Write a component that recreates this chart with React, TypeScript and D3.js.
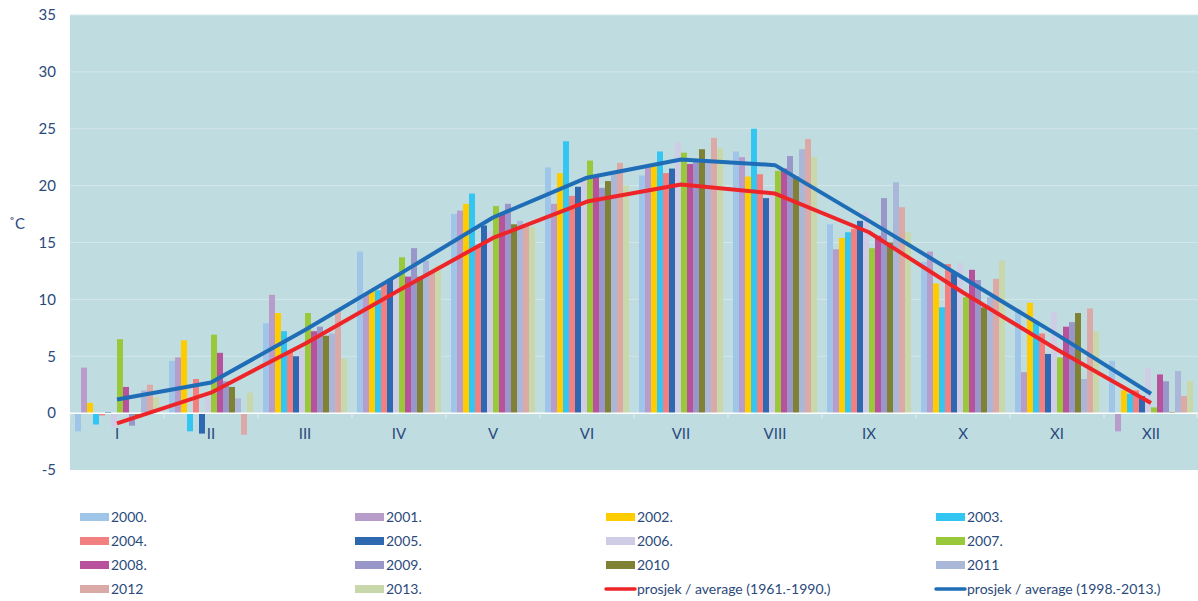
import React from "react";
import * as d3 from "d3";

const months = ["I", "II", "III", "IV", "V", "VI", "VII", "VIII", "IX", "X", "XI", "XII"];
const yTicks = [-5, 0, 5, 10, 15, 20, 25, 30, 35];

const years = ["2000.", "2001.", "2002.", "2003.", "2004.", "2005.", "2006.", "2007.", "2008.", "2009.", "2010", "2011", "2012", "2013."];

const y2000 = [-1.6, 4.6, 7.9, 14.2, 17.5, 21.6, 20.9, 23.0, 16.6, 13.3, 9.1, 4.6];
const y2001 = [4.0, 4.9, 10.4, 10.4, 17.8, 18.4, 21.6, 22.5, 14.4, 14.2, 3.6, -1.6];
const y2002 = [0.9, 6.4, 8.8, 10.8, 18.4, 21.1, 21.7, 20.8, 15.4, 11.4, 9.7, 2.0];
const y2003 = [-1.0, -1.6, 7.2, 10.8, 19.3, 23.9, 23.0, 25.0, 15.9, 9.3, 8.1, 1.7];
const y2004 = [-0.2, 3.0, 5.5, 11.4, 14.8, 19.1, 21.1, 21.0, 16.2, 13.1, 7.0, 2.0];
const y2005 = [0.1, -1.8, 5.0, 11.8, 16.5, 19.9, 21.5, 18.9, 16.9, 12.3, 5.2, 1.5];
const y2006 = [-1.2, 1.5, 5.6, 12.3, 16.0, 20.8, 23.8, 19.5, 17.7, 13.2, 8.9, 4.0];
const y2007 = [6.5, 6.9, 8.8, 13.7, 18.2, 22.2, 22.9, 21.3, 14.5, 10.2, 4.9, 0.5];
const y2008 = [2.3, 5.3, 7.2, 12.0, 17.5, 20.8, 21.9, 21.5, 15.6, 12.6, 7.6, 3.4];
const y2009 = [-1.1, 2.8, 7.6, 14.5, 18.4, 19.8, 22.1, 22.6, 18.9, 11.7, 8.0, 2.8];
const y2010 = [-0.4, 2.3, 6.8, 12.0, 16.6, 20.4, 23.2, 20.8, 15.0, 9.3, 8.8, 0.1];
const y2011 = [2.0, 1.3, 7.0, 13.4, 16.9, 21.0, 22.3, 23.2, 20.3, 10.2, 3.0, 3.7];
const y2012 = [2.5, -1.9, 9.1, 12.5, 16.4, 22.0, 24.2, 24.1, 18.1, 11.8, 9.2, 1.5];
const y2013 = [1.4, 1.8, 4.8, 13.0, 16.4, 20.0, 23.3, 22.5, 15.9, 13.4, 7.2, 2.8];

const avg1961 = [-0.9, 1.8, 6.1, 10.8, 15.4, 18.6, 20.1, 19.3, 15.9, 10.6, 5.6, 0.9];
const avg1998 = [1.2, 2.7, 7.3, 12.2, 17.2, 20.7, 22.3, 21.8, 16.9, 11.9, 6.9, 1.7];

const lineLabels = ["prosjek / average (1961.-1990.)", "prosjek / average (1998.-2013.)"];

const seriesValues = [y2000, y2001, y2002, y2003, y2004, y2005, y2006, y2007, y2008, y2009, y2010, y2011, y2012, y2013];

const barColors = [
  "#9fc6e8", "#b89cc9", "#ffcc00", "#33c6f2", "#f28080", "#2e68b1", "#cfcce6",
  "#9ac83b", "#b8529c", "#9997c9", "#7f8234", "#aab7d8", "#dba9a6", "#c8d8aa",
];
const lineColors = ["#ee2528", "#1f6db6"];

const W = 1198;
const H = 601;
const left = 70;
const right = 1198;
const top = 15;
const bottom = 470;
const textColor = "#2b4a7c";
const font = "Lato, 'Open Sans', sans-serif";

export default function App() {
  const x0 = d3.scaleBand<string>().domain(months).range([left, right]).padding(0);
  const x1 = d3.scaleBand<string>().domain(years).range([5, x0.bandwidth() - 5]).padding(0);
  const y = d3.scaleLinear().domain([-5, 35]).range([bottom, top]);

  const lineGen = d3
    .line<number>()
    .x((_, i) => (x0(months[i]) as number) + x0.bandwidth() / 2)
    .y((v) => y(v));

  const legendItems = [
    ...years.map((label, i) => ({ label, color: barColors[i], kind: "bar" })),
    ...lineLabels.map((label, i) => ({ label, color: lineColors[i], kind: "line" })),
  ];
  const legendColX = [80, 355, 606, 936];
  const legendRowY = [517, 541, 565, 589];

  return (
    <div style={{ position: "fixed", left: 0, top: 0 }}>
      <svg width={W} height={H} style={{ display: "block", background: "#fff" }}>
        <rect x={left} y={top} width={right - left} height={bottom - top} fill="#bfdce0" />
        {yTicks.filter((t) => t !== 0 && t !== -5).map((t) => (
          <line key={"g" + t} x1={left} x2={right} y1={y(t)} y2={y(t)} stroke="#d3e7ea" strokeWidth={1} />
        ))}
        {yTicks.map((t) => (
          <text key={"t" + t} x={56} y={y(t)} dy="0.35em" textAnchor="end" fontSize={15} fontFamily={font} fill={textColor}>
            {t}
          </text>
        ))}
        <text x={17} y={229} textAnchor="middle" fontSize={15} fontFamily={font} fill={textColor}>˚C</text>

        {seriesValues.map((vals, si) => (
          <g key={"s" + si} fill={barColors[si]}>
            {vals.map((v, mi) => {
              const bx = (x0(months[mi]) as number) + (x1(years[si]) as number);
              const y0 = y(0);
              const yv = y(v);
              return (
                <rect key={mi} x={bx} y={Math.min(y0, yv)} width={x1.bandwidth()} height={Math.abs(yv - y0)} />
              );
            })}
          </g>
        ))}

        <line x1={left} x2={right} y1={y(0)} y2={y(0)} stroke="#ffffff" strokeWidth={1.5} />
        {months.map((m, i) => (
          <line key={"tk" + i} x1={x0(m) as number} x2={x0(m) as number} y1={y(0)} y2={y(0) + 5} stroke="#e6eef0" strokeWidth={1} />
        ))}
        <line x1={right - 1} x2={right - 1} y1={y(0)} y2={y(0) + 5} stroke="#e6eef0" strokeWidth={1} />
        {months.map((m) => (
          <text key={"m" + m} x={(x0(m) as number) + x0.bandwidth() / 2} y={439} textAnchor="middle" fontSize={15} fontFamily={font} fill={textColor}>
            {m}
          </text>
        ))}

        <path d={lineGen(avg1961) as string} fill="none" stroke={lineColors[0]} strokeWidth={4} strokeLinejoin="round" />
        <path d={lineGen(avg1998) as string} fill="none" stroke={lineColors[1]} strokeWidth={4} strokeLinejoin="round" />

        {legendItems.map((it, i) => {
          const col = i % 4;
          const row = Math.floor(i / 4);
          const lx = legendColX[col];
          const ly = legendRowY[row];
          return (
            <g key={"l" + i}>
              {it.kind === "bar" ? (
                <rect x={lx} y={ly - 4} width={29} height={8} fill={it.color} />
              ) : (
                <line x1={lx} x2={lx + 29} y1={ly} y2={ly} stroke={it.color} strokeWidth={3.5} strokeLinecap="round" />
              )}
              <text x={lx + 31} y={ly} dy="0.35em" fontSize={14} fontFamily={font} fill={textColor}>
                {it.label}
              </text>
            </g>
          );
        })}
      </svg>
    </div>
  );
}
